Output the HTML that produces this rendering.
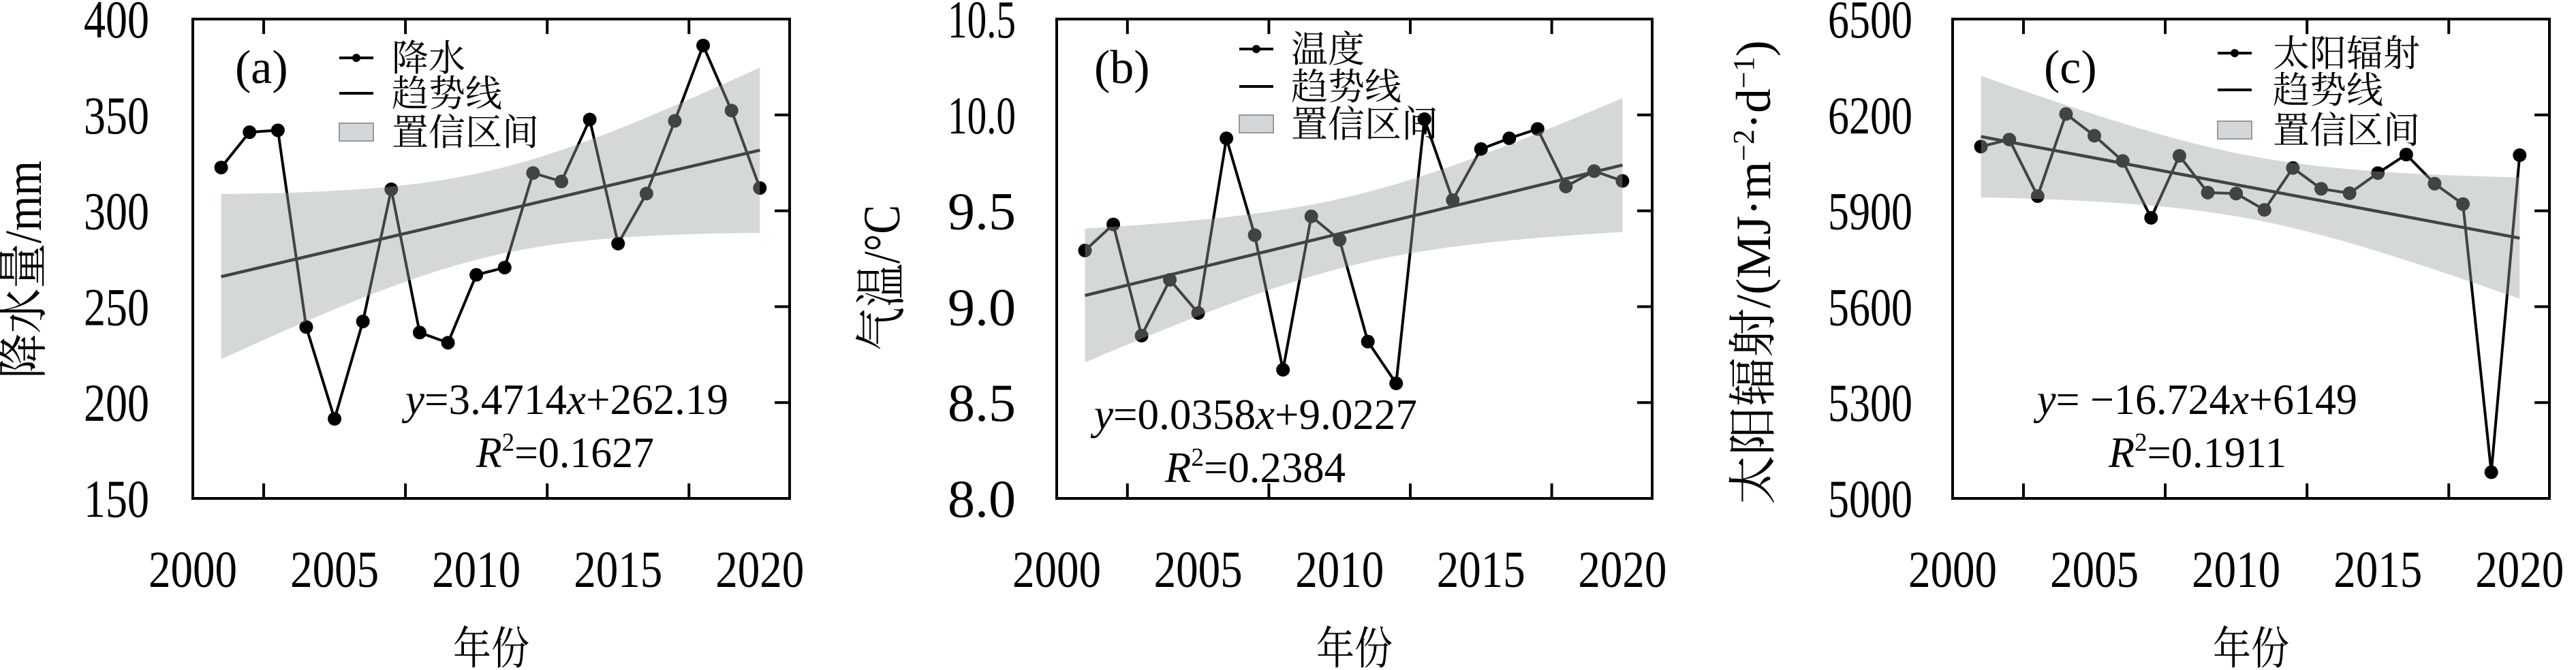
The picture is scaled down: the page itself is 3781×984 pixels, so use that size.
<!DOCTYPE html>
<html><head><meta charset="utf-8"><style>
html,body{margin:0;padding:0;background:#fff;}
svg{display:block;}
text{font-family:"Liberation Serif","Noto Serif CJK SC",serif;fill:#000;}
.cjk{font-family:"Liberation Serif","Noto Serif CJK SC","Noto Sans CJK SC",serif;}
</style></head><body>
<svg id="fig" xmlns="http://www.w3.org/2000/svg" width="3781" height="984" viewBox="0 0 3781 984"></svg>
<script>
// ---- data ----
const years = [2001,2002,2003,2004,2005,2006,2007,2008,2009,2010,2011,2012,2013,2014,2015,2016,2017,2018,2019,2020];
const xTickLabels = [2000,2005,2010,2015,2020];
const xTickMarks = [2002.5,2007.5,2012.5,2017.5];

const precipValues = [322.6,341,342,239.4,191.5,242.3,311.2,236.5,231.2,266.6,270.4,319.7,315.3,347.6,282.9,309,346.9,386.2,352.3,311.9];
const precipTicks = [150,200,250,300,350,400];
const precipTrend = [3.4714,262.19];
const precipCI = 100;

const tempValues = [9.293,9.429,8.849,9.14,8.967,9.878,9.373,8.671,9.471,9.349,8.818,8.6,9.978,9.556,9.822,9.878,9.927,9.627,9.707,9.656];
const tempTicks = [8.0,8.5,9.0,9.5,10.0,10.5];
const tempTrend = [0.0358,9.0227];
const tempCI = 0.81;

const radValues = [6101,6123,5946,6203,6135,6056,5878,6072,5957,5954,5903,6034,5969,5955,6018,6076,5985,5921,5082,6074];
const radTicks = [5000,5300,5600,5900,6200,6500];
const radTrend = [-16.724,6149];
const radCI = 441;

const NS='http://www.w3.org/2000/svg';
const svg=document.getElementById('fig');
function el(tag,attrs,parent){const e=document.createElementNS(NS,tag);for(const k in attrs)e.setAttribute(k,attrs[k]);(parent||svg).appendChild(e);return e;}

function panel(cfg){
  const g=el('g',{});
  
  
  const L=cfg.left,R=cfg.right,T=28,B=732;
  const xs=y=>L+(y-2000)/(21.05)*(R-L);
  const ys=v=>B-(v-cfg.ticks[0])/(cfg.ticks[cfg.ticks.length-1]-cfg.ticks[0])*(B-T);
  let d='';years.forEach((yr,i)=>{d+=(i?'L':'M')+xs(yr)+','+ys(cfg.values[i]);});
  const line=el('path',{d:d,fill:'none',stroke:'#000','stroke-width':4,'stroke-linejoin':'round'},g);
  
  
  years.forEach((yr,i)=>{
    const c=el('circle',{cx:xs(yr),cy:ys(cfg.values[i]),r:10,fill:'#000'},g);
    
    
  });
  const tf=x=>cfg.trend[1]+cfg.trend[0]*x;
  const tr=el('line',{x1:xs(2001),y1:ys(tf(1)),x2:xs(2020),y2:ys(tf(20)),stroke:'#000','stroke-width':4.5},g);
  
  
  let up=[],lo=[];
  for(let x=1;x<=20;x+=0.25){const h=cfg.ci*Math.sqrt(0.05+(x-10.5)*(x-10.5)/665);up.push([xs(2000+x),ys(tf(x)+h)]);lo.push([xs(2000+x),ys(tf(x)-h)]);}
  const pts=up.concat(lo.reverse()).map(p=>p.join(',')).join(' ');
  const band=el('polygon',{points:pts,fill:'#98a1a5','fill-opacity':0.42},g);
  
  
  const box=el('rect',{x:L,y:T,width:R-L,height:B-T,fill:'none',stroke:'#000','stroke-width':4},g);
  
  
  xTickMarks.forEach(t=>{
    el('line',{x1:xs(t),x2:xs(t),y1:T,y2:T+22,stroke:'#000','stroke-width':4},g);
    el('line',{x1:xs(t),x2:xs(t),y1:B,y2:B-22,stroke:'#000','stroke-width':4},g);
  });
  cfg.ticks.forEach((t,i)=>{
    if(i>0&&i<cfg.ticks.length-1) el('line',{x1:R,x2:R-22,y1:ys(t),y2:ys(t),stroke:'#000','stroke-width':4},g);
    const tx=el('text',{x:cfg.yLabelX,y:ys(t)+27,'text-anchor':'end','font-size':78,textLength:cfg.tickW,lengthAdjust:'spacingAndGlyphs'},g);
    tx.textContent=cfg.fmt(t);
    
    
  });
  xTickLabels.forEach(t=>{
    const tx=el('text',{x:xs(t)-65,y:862,'font-size':76,textLength:130,lengthAdjust:'spacingAndGlyphs'},g);
    tx.textContent=t;
    
    
  });
  const xt=el('text',{x:(L+R)/2,y:975,'text-anchor':'middle','font-size':66,class:'cjk',textLength:112,lengthAdjust:'spacingAndGlyphs'},g);
  xt.textContent='年份';
  
  
  const yt=el('text',{x:0,y:0,'text-anchor':'middle','font-size':cfg.yTitleSize,class:'cjk',transform:'translate('+cfg.yTitleX+','+cfg.yTitleY+') rotate(-90)'},g);
  yt.innerHTML=cfg.yTitle;
  if(cfg.yTitleLen){yt.setAttribute('textLength',cfg.yTitleLen);yt.setAttribute('lengthAdjust','spacingAndGlyphs');}
  
  
  const pl=el('text',{x:cfg.plX,y:122,'font-size':70},g);
  pl.textContent=cfg.plText;
  
  
  const lx=cfg.legX,tx0=cfg.legTX,ry=cfg.legY;
  el('line',{x1:lx,x2:lx+50,y1:ry[0],y2:ry[0],stroke:'#000','stroke-width':4},g);
  el('circle',{cx:lx+25,cy:ry[0],r:6,fill:'#000'},g);
  el('line',{x1:lx,x2:lx+50,y1:ry[1],y2:ry[1],stroke:'#000','stroke-width':4},g);
  el('rect',{x:lx,y:ry[2]-13,width:50,height:26,fill:'#d3d7d9',stroke:'#999','stroke-width':2},g);
  const names=[cfg.legName,'趋势线','置信区间'];
  names.forEach((n,i)=>{
    const t=el('text',{x:tx0,y:ry[i]+19,'font-size':54,class:'cjk'},g);
    t.textContent=n;
    
    
  });
  const eq=el('text',{x:cfg.eqX,y:cfg.eqY,'font-size':64,textLength:cfg.eqW,lengthAdjust:'spacingAndGlyphs'},g);
  eq.innerHTML=cfg.eq;
  
  
  const r2=el('text',{x:cfg.r2X,y:cfg.eqY+78,'font-size':64,textLength:cfg.r2W,lengthAdjust:'spacingAndGlyphs'},g);
  r2.innerHTML='<tspan font-style="italic">R</tspan><tspan font-size="38" dy="-24">2</tspan><tspan dy="24">='+cfg.r2+'</tspan>';
  
  
}

panel({name:'precipitation-panel',key:'precip',left:283,right:1159,values:precipValues,ticks:precipTicks,trend:precipTrend,ci:precipCI,
  fmt:v=>String(v),yLabelX:219,tickW:96,yTitle:'降水量/mm',yTitleSize:76,yTitleX:60,yTitleY:396,yTitleLen:320,
  plX:345,plText:'(a)',legX:498,legTX:575,legY:[85,137,194],legName:'降水',
  eq:'<tspan font-style="italic">y</tspan>=3.4714<tspan font-style="italic">x</tspan>+262.19',eqX:595,eqY:608,eqW:474,r2X:699,r2W:261,r2:'0.1627'});
panel({name:'temperature-panel',key:'temp',left:1551,right:2425,values:tempValues,ticks:tempTicks,trend:tempTrend,ci:tempCI,
  fmt:v=>v.toFixed(1),yLabelX:1491,tickW:100,yTitle:'气温/°C',yTitleSize:76,yTitleX:1320,yTitleY:408,yTitleLen:214,
  plX:1606,plText:'(b)',legX:1819,legTX:1895,legY:[72,127,182],legName:'温度',
  eq:'<tspan font-style="italic">y</tspan>=0.0358<tspan font-style="italic">x</tspan>+9.0227',eqX:1606,eqY:630,eqW:474,r2X:1710,r2W:265,r2:'0.2384'});
panel({name:'solar-radiation-panel',key:'rad',left:2866,right:3742,values:radValues,ticks:radTicks,trend:radTrend,ci:radCI,
  fmt:v=>String(v),yLabelX:2807,tickW:124,yTitle:'太阳辐射/(MJ·m<tspan font-size="44" dy="-24">−2</tspan><tspan dy="24">·d</tspan><tspan font-size="44" dy="-24">−1</tspan><tspan dy="24">)</tspan>',yTitleSize:72,yTitleX:2598,yTitleY:400,yTitleLen:0,
  plX:3000,plText:'(c)',legX:3255,legTX:3336,legY:[78,132,191],legName:'太阳辐射',
  eq:'<tspan font-style="italic">y</tspan>= −16.724<tspan font-style="italic">x</tspan>+6149',eqX:2990,eqY:608,eqW:470,r2X:3095,r2W:261,r2:'0.1911'});
</script>
</body></html>
